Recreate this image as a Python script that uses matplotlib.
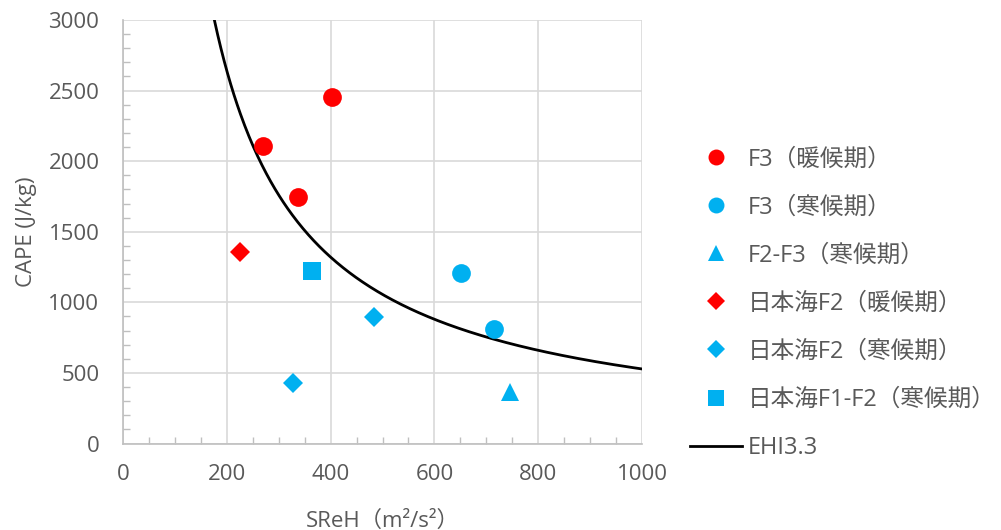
import numpy as np
import matplotlib.pyplot as plt
from matplotlib.ticker import MultipleLocator

plt.rcParams['font.family'] = ['Open Sans', 'Noto Sans CJK JP', 'DejaVu Sans']

RED = '#FF0000'
BLUE = '#00B0F0'
GREY_TXT = '#595959'

# data (SReH m2/s2, CAPE J/kg)
f3_warm_x = [270, 337, 403]
f3_warm_y = [2110, 1748, 2452]
f3_cold_x = [651, 715]
f3_cold_y = [1205, 808]
f23_cold_x = [745]
f23_cold_y = [368]
jsea_f2_warm_x = [226]
jsea_f2_warm_y = [1356]
jsea_f2_cold_x = [327, 483]
jsea_f2_cold_y = [432, 896]
jsea_f12_cold_x = [364]
jsea_f12_cold_y = [1220]

labels = ['F3（暖候期）', 'F3（寒候期）', 'F2-F3（寒候期）', '日本海F2（暖候期）',
          '日本海F2（寒候期）', '日本海F1-F2（寒候期）', 'EHI3.3']

# EHI = SReH * CAPE / 160000
ehi = 3.3
ehi_x = np.linspace(170, 1000, 400)
ehi_y = ehi * 160000 / ehi_x

fig = plt.figure(figsize=(10.01, 5.30), dpi=100)
ax = fig.add_axes([0.1229, 0.1632, 0.5185, 0.7991])

h1, = ax.plot(f3_warm_x, f3_warm_y, 'o', color=RED, ms=13.5, mew=0, zorder=3)
h2, = ax.plot(f3_cold_x, f3_cold_y, 'o', color=BLUE, ms=13.5, mew=0, zorder=3)
h3, = ax.plot(f23_cold_x, f23_cold_y, '^', color=BLUE, ms=13.5, mew=0, zorder=3)
h4, = ax.plot(jsea_f2_warm_x, jsea_f2_warm_y, 'D', color=RED, ms=10.5, mew=0, zorder=3)
h5, = ax.plot(jsea_f2_cold_x, jsea_f2_cold_y, 'D', color=BLUE, ms=10.5, mew=0, zorder=3)
h6, = ax.plot(jsea_f12_cold_x, jsea_f12_cold_y, 's', color=BLUE, ms=13.5, mew=0, zorder=3)
h7, = ax.plot(ehi_x, ehi_y, '-', color='black', lw=2, zorder=2)

ax.set_xlim(0, 1000)
ax.set_ylim(0, 3000)
ax.xaxis.set_major_locator(MultipleLocator(200))
ax.yaxis.set_major_locator(MultipleLocator(500))
ax.xaxis.set_minor_locator(MultipleLocator(50))
ax.yaxis.set_minor_locator(MultipleLocator(100))
ax.grid(True, which='major', color='#D9D9D9', lw=1.2)
ax.set_axisbelow(True)
for s in ['top', 'right']:
    ax.spines[s].set_visible(False)
for s in ['left', 'bottom']:
    ax.spines[s].set_color('#BFBFBF')
    ax.spines[s].set_linewidth(1.2)
ax.tick_params(which='major', length=0, labelsize=16, labelcolor=GREY_TXT)
ax.tick_params(axis='x', which='major', pad=15)
ax.tick_params(axis='y', which='major', pad=17)
ax.tick_params(which='minor', direction='in', length=5, color='#BFBFBF', width=1)

ax.set_ylabel('CAPE (J/kg)', fontsize=16, color=GREY_TXT, labelpad=8)
ax.set_xlabel('SReH（m²/s²）', fontsize=16, color=GREY_TXT, labelpad=18)

fig.legend([h1, h2, h3, h4, h5, h6, h7], labels, loc='upper left',
           bbox_to_anchor=(0.668, 0.762), frameon=False, fontsize=17,
           labelcolor=GREY_TXT, labelspacing=1.02, handlelength=2.2,
           handletextpad=0.25, markerscale=0.85)

fig.savefig('out.png', dpi=100)
